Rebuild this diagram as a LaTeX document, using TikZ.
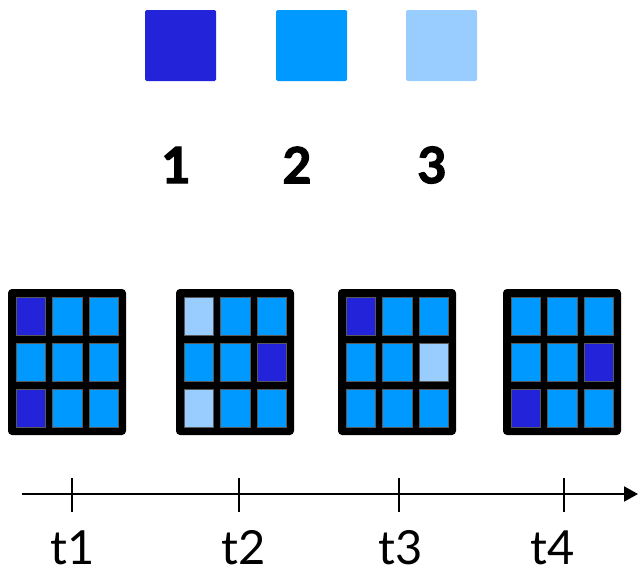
\documentclass[tikz,border=0pt]{standalone}
\usepackage{fontspec}
\newfontfamily\labfont{Lato}
\newfontfamily\numfont{Lato}[BoldFeatures={FakeBold=2.5}]
\usetikzlibrary{arrows.meta,positioning}
\definecolor{cellD}{HTML}{2323DA}
\definecolor{cellM}{HTML}{0099FF}
\definecolor{cellL}{HTML}{99CCFF}

\begin{document}
\begin{tikzpicture}[x=1pt,y=-1pt,
    keybox/.style={minimum size=71pt, inner sep=0pt, rounded corners=1.5pt},
    numlab/.style={font=\numfont\bfseries\fontsize{50}{50}\selectfont, inner sep=0pt},
    cell/.style={draw=black!65, line width=0.5pt},
    axis/.style={line width=2pt, -{Triangle[length=14pt,width=15pt]}},
    tick/.style={line width=1.3pt},
    tlab/.style={font=\labfont\fontsize{47}{47}\selectfont, anchor=base, inner sep=0pt}]
    \useasboundingbox (0,0) rectangle (638,570);
    \def\cw{29.3}
    \def\ch{38.4}

    % Legend: colour keys and their numbers
    \foreach \k/\kx/\nx [count=\n] in {D/145/176, M/276/297, L/406/432} {
        \node[keybox, fill=cell\k] (key\n) at (\kx+35.5, 45.5) {};
        \node[numlab] (num\n) at (\nx, 165) {\n};
    }

    % 3x3 grids, one per time step
    \foreach \gx/\cells in {8/{D,M,M,M,M,M,D,M,M}, 176/{L,M,M,M,M,D,L,M,M},
                            338/{D,M,M,M,M,L,M,M,M}, 503/{M,M,M,M,M,D,D,M,M}} {
        \fill[rounded corners=4pt] (\gx,289) rectangle ++(118,146);
        \foreach \c [count=\i from 0] in \cells {
            \pgfmathtruncatemacro\col{mod(\i,3)}
            \pgfmathtruncatemacro\row{div(\i,3)}
            \filldraw[cell, fill=cell\c] (\gx+8+\col*36.65, 297.3+\row*45.9) rectangle ++(\cw,\ch);
        }
    }

    % Time axis
    \coordinate (ax0) at (22,494);
    \coordinate (ax1) at (638,494);
    \draw[axis] (ax0) -- (ax1);
    \foreach \tx/\lx [count=\n] in {72/73, 239/244, 399/401, 564/553} {
        \draw[tick] (\tx,478) -- (\tx,512);
        \node[tlab] (t\n) at (\lx,564) {t\n};
    }
\end{tikzpicture}
\end{document}
